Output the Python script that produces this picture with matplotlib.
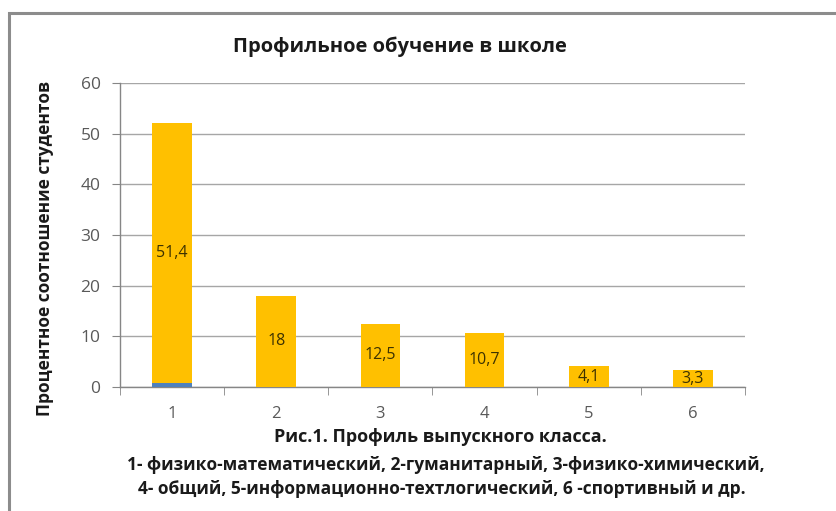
import matplotlib
matplotlib.use("Agg")
import matplotlib.pyplot as plt
from matplotlib.patches import Rectangle

plt.rcParams["font.family"] = ["Open Sans", "DejaVu Sans"]

categories = ["1", "2", "3", "4", "5", "6"]
blue_values = [0.8, 0, 0, 0, 0, 0]
yellow_values = [51.4, 18, 12.5, 10.7, 4.1, 3.3]
value_labels = ["51,4", "18", "12,5", "10,7", "4,1", "3,3"]
y_ticks = [0, 10, 20, 30, 40, 50, 60]

title = "Профильное обучение в школе"
y_title = "Процентное соотношение студентов"
caption = [
    "Рис.1. Профиль выпускного класса.",
    "1- физико-математический, 2-гуманитарный, 3-физико-химический,",
    "4- общий, 5-информационно-техтлогический, 6 -спортивный и др.",
]

W, H = 837, 511
fig = plt.figure(figsize=(W / 100, H / 100), dpi=100)
fig.patch.set_facecolor("white")

# chart frame (right and bottom run off the picture)
fig.add_artist(Rectangle((9 / W, -0.05), 1.05, 1 - 13 / H + 0.05,
                         transform=fig.transFigure, fill=False,
                         edgecolor="#8c8c8c", linewidth=2.2))

ax = fig.add_axes([120 / W, 1 - 387 / H, (745 - 120) / W, (387 - 83) / H])
x = list(range(1, len(categories) + 1))
width = 0.38
ax.bar(x, blue_values, width, color="#4f81bd", zorder=3)
ax.bar(x, yellow_values, width, bottom=blue_values, color="#ffc000", zorder=3)

for xi, b, v, lab in zip(x, blue_values, yellow_values, value_labels):
    ax.text(xi, b + v / 2, lab, ha="center", va="center", fontsize=11.5,
            color="#3d3200", zorder=4)

ax.set_xlim(0.5, len(categories) + 0.5)
ax.set_ylim(0, 60)
ax.set_yticks(y_ticks)
ax.set_yticklabels([str(t) for t in y_ticks])
ax.set_xticks(x)
ax.set_xticklabels(categories)
ax.set_xticks([i + 0.5 for i in range(len(categories) + 1)], minor=True)
ax.tick_params(axis="x", which="major", length=0, pad=14, labelsize=12, labelcolor="#595959")
ax.tick_params(axis="x", which="minor", length=6, color="#868686", direction="out")
ax.tick_params(axis="y", length=6, color="#868686", pad=8, labelsize=12.5, labelcolor="#595959")

ax.grid(axis="y", color="#a6a6a6", linewidth=1.0, zorder=0)
for side in ("top", "right"):
    ax.spines[side].set_visible(False)
for side in ("left", "bottom"):
    ax.spines[side].set_color("#868686")
    ax.spines[side].set_linewidth(1.0)

fig.text(400 / W, 1 - 47 / H, title, ha="center", va="center",
         fontsize=14.5, fontweight="bold", color="#1a1a1a")
fig.text(45 / W, 1 - 248 / H, y_title, ha="center", va="center", rotation=90,
         fontsize=12.5, fontweight="bold", color="#1a1a1a")
fig.text(440 / W, 1 - 437 / H, caption[0], ha="center", va="center",
         fontsize=13, fontweight="bold", color="#1a1a1a")
fig.text(446 / W, 1 - 465 / H, caption[1], ha="center", va="center",
         fontsize=12.5, fontweight="bold", color="#1a1a1a")
fig.text(442 / W, 1 - 489 / H, caption[2], ha="center", va="center",
         fontsize=12.5, fontweight="bold", color="#1a1a1a")

fig.savefig("out.png", dpi=100)
